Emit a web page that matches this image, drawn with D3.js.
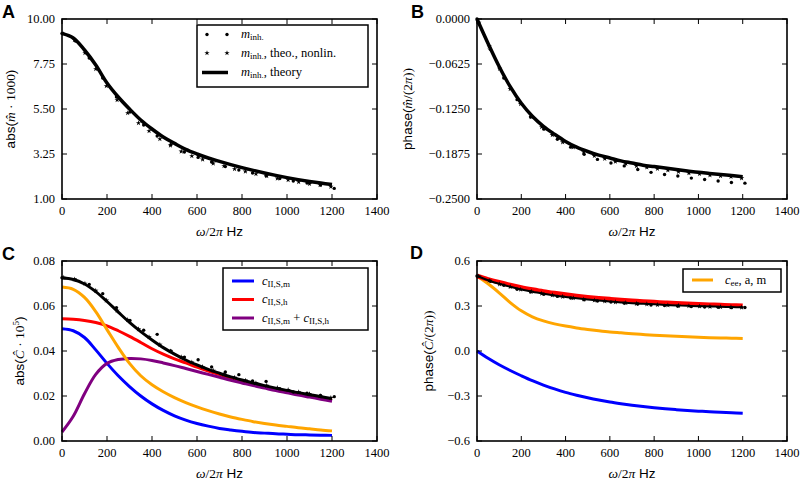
<!DOCTYPE html>
<html><head><meta charset="utf-8">
<script src="https://cdn.jsdelivr.net/npm/d3@7"></script>
<style>
body{margin:0;background:#fff;}
svg{display:block;}
</style></head><body>
<svg id="chart" width="800" height="484"></svg>
<script>
// ---------- data ----------
const freqTheory = [0,50,100,150,200,250,300,350,400,450,500,550,600,650,700,750,800,850,900,950,1000,1050,1100,1150,1200];
const dotFreq = [0,60,121,181,242,302,363,423,484,544,605,665,726,786,847,907,968,1028,1089,1149,1210];
const starFreq = [8,55,102,150,197,245,292,340,387,435,482,530,577,625,672,720,767,815,862,910,957,1005,1052,1100,1147,1195];

// Panel A: abs(m̂ · 1000)
const absMTheory = [9.28,9.05,8.45,7.7,6.8,6.1,5.5,4.95,4.5,4.1,3.78,3.48,3.25,3.05,2.88,2.72,2.57,2.43,2.3,2.18,2.07,1.97,1.88,1.8,1.72];
const absMDots = [9.28,8.9,8.05,7.05,6.1,5.35,4.7,4.15,3.72,3.35,3.08,2.85,2.62,2.45,2.3,2.16,2.02,1.9,1.8,1.7,1.53];
const absMStars = [9.25,8.95,8.3,7.5,6.65,5.95,5.3,4.8,4.4,4.0,3.68,3.38,3.15,2.98,2.78,2.65,2.5,2.38,2.25,2.15,2.03,1.95,1.85,1.76,1.7,1.62];

// Panel B: phase(m̂/(2π))
const phaseMTheory = [0,-0.034,-0.066,-0.094,-0.117,-0.135,-0.149,-0.160,-0.170,-0.178,-0.184,-0.189,-0.193,-0.197,-0.200,-0.203,-0.205,-0.207,-0.209,-0.211,-0.213,-0.2145,-0.216,-0.2175,-0.219];
const phaseMDots = [0,-0.042,-0.082,-0.112,-0.136,-0.153,-0.167,-0.178,-0.188,-0.195,-0.200,-0.204,-0.209,-0.213,-0.216,-0.218,-0.221,-0.223,-0.225,-0.227,-0.228];
const phaseMStars = [-0.005,-0.038,-0.069,-0.097,-0.118,-0.136,-0.150,-0.161,-0.171,-0.178,-0.185,-0.190,-0.194,-0.198,-0.201,-0.204,-0.206,-0.208,-0.210,-0.212,-0.214,-0.215,-0.217,-0.218,-0.219,-0.221];

// Panel C: abs(Ĉ · 10^5)
const absCTotal = [0.0724,0.0718,0.0698,0.0664,0.0620,0.0573,0.0527,0.0486,0.0449,0.0415,0.0386,0.0360,0.0338,0.0318,0.0301,0.0285,0.0271,0.0258,0.0246,0.0235,0.0225,0.0215,0.0206,0.0197,0.0189];
const absCm = [0.0499,0.0490,0.0460,0.0405,0.0345,0.0290,0.0242,0.0200,0.0165,0.0136,0.0112,0.0093,0.0078,0.0066,0.0056,0.0049,0.0043,0.0038,0.0035,0.0032,0.0030,0.0028,0.0027,0.0026,0.0025];
const absCh = [0.0543,0.0541,0.0536,0.0527,0.0512,0.0490,0.0465,0.0438,0.0410,0.0386,0.0365,0.0347,0.0328,0.0311,0.0295,0.0280,0.0266,0.0253,0.0241,0.0230,0.0219,0.0209,0.0200,0.0191,0.0183];
const absCsum = [0.0040,0.0110,0.0210,0.0296,0.0345,0.0362,0.0367,0.0365,0.0358,0.0347,0.0335,0.0322,0.0309,0.0296,0.0283,0.0270,0.0258,0.0246,0.0235,0.0224,0.0214,0.0204,0.0195,0.0186,0.0177];
const absCee = [0.0684,0.0674,0.0638,0.0575,0.0495,0.0416,0.0345,0.0290,0.0250,0.0219,0.0193,0.0171,0.0152,0.0135,0.0120,0.0107,0.0096,0.0086,0.0078,0.0071,0.0065,0.0059,0.0054,0.0049,0.0045];
const absCDots = [0.0726,0.0716,0.0696,0.0655,0.0593,0.0536,0.0492,0.0474,0.0400,0.0373,0.0361,0.0329,0.0307,0.0295,0.0267,0.0265,0.0233,0.0218,0.0213,0.0203,0.0197];
const absCStars = [0.0726,0.0718,0.0700,0.0668,0.0625,0.0580,0.0538,0.0497,0.0462,0.0428,0.0399,0.0373,0.0350,0.0330,0.0313,0.0297,0.0282,0.0269,0.0257,0.0246,0.0236,0.0227,0.0217,0.0209,0.0200,0.0192];

// Panel D: phase(Ĉ/(2π))
const phaseCTotal = [0.500,0.472,0.448,0.428,0.410,0.395,0.382,0.370,0.360,0.351,0.343,0.336,0.330,0.324,0.319,0.315,0.311,0.307,0.304,0.301,0.299,0.297,0.295,0.293,0.291];
const phaseCh = [0.500,0.478,0.458,0.440,0.424,0.410,0.397,0.386,0.376,0.367,0.359,0.352,0.346,0.340,0.335,0.330,0.326,0.322,0.318,0.315,0.312,0.309,0.306,0.304,0.302];
const phaseCm = [0,-0.049,-0.092,-0.130,-0.165,-0.198,-0.227,-0.253,-0.276,-0.295,-0.312,-0.327,-0.340,-0.351,-0.361,-0.370,-0.378,-0.385,-0.391,-0.396,-0.401,-0.405,-0.409,-0.412,-0.415];
const phaseCee = [0.500,0.448,0.388,0.323,0.268,0.228,0.201,0.181,0.166,0.154,0.144,0.135,0.127,0.121,0.115,0.110,0.105,0.101,0.098,0.095,0.092,0.089,0.087,0.085,0.083];
const phaseCDots = [0.5,0.465,0.438,0.412,0.394,0.378,0.364,0.353,0.342,0.333,0.326,0.319,0.313,0.307,0.303,0.299,0.296,0.293,0.291,0.289,0.290];
const phaseCStars = [0.498,0.470,0.446,0.428,0.410,0.396,0.383,0.372,0.362,0.353,0.345,0.338,0.332,0.326,0.321,0.316,0.312,0.308,0.305,0.302,0.300,0.298,0.296,0.294,0.293,0.291];

const xTicks = [0,200,400,600,800,1000,1200,1400];
const yTicksA = [1.00,3.25,5.50,7.75,10.00];
const yTicksB = [-0.25,-0.1875,-0.125,-0.0625,0];
const yTicksC = [0,0.02,0.04,0.06,0.08];
const yTicksD = [-0.6,-0.3,0,0.3,0.6];

// ---------- drawing ----------
const svg = d3.select("#chart");
const SERIF = "'Liberation Serif','DejaVu Serif',serif";
const SANS = "'Liberation Sans',Arial,sans-serif";
const COL = {blue:"#0000ff", red:"#ff0000", purple:"#800080", orange:"#ffa500", black:"#000"};

function makePanel(o){
  const x = d3.scaleLinear().domain([0,1400]).range([o.left,o.right]);
  const y = d3.scaleLinear().domain(o.ydom).range([o.bottom,o.top]);
  const g = svg.append("g");
  const content = g.append("g");
  const axes = g.append("g");
  xTicks.forEach(t=>{
    axes.append("line").attr("x1",x(t)).attr("x2",x(t)).attr("y1",o.bottom).attr("y2",o.bottom-5).attr("stroke","#000").attr("stroke-width",1);
    axes.append("line").attr("x1",x(t)).attr("x2",x(t)).attr("y1",o.top).attr("y2",o.top+5).attr("stroke","#000").attr("stroke-width",1);
    axes.append("text").attr("x",x(t)).attr("y",o.bottom+16).attr("text-anchor","middle")
      .attr("font-family",SERIF).attr("font-size",12.5).text(t);
  });
  o.yticks.forEach(t=>{
    axes.append("line").attr("y1",y(t)).attr("y2",y(t)).attr("x1",o.left).attr("x2",o.left+5).attr("stroke","#000").attr("stroke-width",1);
    axes.append("line").attr("y1",y(t)).attr("y2",y(t)).attr("x1",o.right).attr("x2",o.right-5).attr("stroke","#000").attr("stroke-width",1);
    axes.append("text").attr("x",o.left-7).attr("y",y(t)).attr("dy","0.35em").attr("text-anchor","end")
      .attr("font-family",SERIF).attr("font-size",12.5).text(d3.format(o.yfmt)(t));
  });
  axes.append("rect").attr("x",o.left).attr("y",o.top).attr("width",o.right-o.left).attr("height",o.bottom-o.top)
    .attr("fill","none").attr("stroke","#000").attr("stroke-width",1.6);
  const xt = axes.append("text").attr("x",(o.left+o.right)/2).attr("y",o.bottom+37).attr("text-anchor","middle").attr("font-size",13.5);
  xt.append("tspan").attr("font-family",SERIF).attr("font-style","italic").text("ω");
  xt.append("tspan").attr("font-family",SERIF).text("/2");
  xt.append("tspan").attr("font-family",SERIF).attr("font-style","italic").text("π");
  xt.append("tspan").attr("font-family",SANS).text(" Hz");
  const yt = axes.append("text").attr("transform",`translate(${o.ytx},${(o.top+o.bottom)/2}) rotate(-90)`)
    .attr("text-anchor","middle").attr("dy","0.35em").attr("font-size",13.5);
  o.ytitle(yt);
  axes.append("text").attr("x",o.lx).attr("y",o.ly).attr("font-family",SANS).attr("font-weight","bold").attr("font-size",18).text(o.letter);
  return {x,y,content,axes};
}

function theoryLine(p, vals, color, width){
  const line = d3.line().x((d,i)=>p.x(freqTheory[i])).y(d=>p.y(d)).curve(d3.curveCatmullRom.alpha(0.5));
  p.content.append("path").datum(vals).attr("d",line).attr("fill","none").attr("stroke",color).attr("stroke-width",width).attr("stroke-linecap","butt");
}
function dots(p, vals){
  p.content.selectAll(null).data(vals).join("circle").attr("cx",(d,i)=>p.x(dotFreq[i])).attr("cy",d=>p.y(d)).attr("r",1.7).attr("fill","#000");
}
const starPath = d3.symbol().type(d3.symbolStar).size(9)();
function stars(p, vals){
  p.content.selectAll(null).data(vals).join("path").attr("d",starPath)
    .attr("transform",(d,i)=>`translate(${p.x(starFreq[i])},${p.y(d)})`).attr("fill","#000");
}
function tsp(t, txt, fam, style){
  const s = t.append("tspan").attr("font-family",fam).text(txt);
  if(style) s.attr("font-style",style);
  return s;
}
function sub(t, txt, size){
  t.append("tspan").attr("font-family",SERIF).attr("font-size",size).attr("baseline-shift","-25%").text(txt);
}

// Panel A
const pA = makePanel({left:62,right:377,top:19,bottom:199,ydom:[1,10],yticks:yTicksA,yfmt:".2f",ytx:10,lx:2,ly:18,letter:"A",
  ytitle:t=>{tsp(t,"abs(",SANS);tsp(t,"m̂",SERIF,"italic");tsp(t," · 1000",SERIF);tsp(t,")",SANS);}});
theoryLine(pA, absMTheory, "#000", 3.5);
stars(pA, absMStars);
dots(pA, absMDots);

// Panel B
const pB = makePanel({left:477,right:787,top:19,bottom:199,ydom:[-0.25,0],yticks:yTicksB,yfmt:".4f",ytx:407,lx:411,ly:18,letter:"B",
  ytitle:t=>{tsp(t,"phase(",SANS);tsp(t,"m̂",SERIF,"italic");tsp(t,"/(2",SERIF);tsp(t,"π",SERIF,"italic");tsp(t,"))",SERIF);}});
theoryLine(pB, phaseMTheory, "#000", 3.5);
stars(pB, phaseMStars);
dots(pB, phaseMDots);

// Panel C
const pC = makePanel({left:62,right:377,top:261,bottom:441,ydom:[0,0.08],yticks:yTicksC,yfmt:".2f",ytx:19,lx:2,ly:260,letter:"C",
  ytitle:t=>{tsp(t,"abs(",SANS);tsp(t,"Ĉ",SERIF,"italic");tsp(t," · 10",SERIF);
    t.append("tspan").attr("font-family",SERIF).attr("font-size",9).attr("baseline-shift","super").text("5");tsp(t,")",SANS);}});
theoryLine(pC, absCm, COL.blue, 3);
theoryLine(pC, absCh, COL.red, 3);
theoryLine(pC, absCsum, COL.purple, 3);
theoryLine(pC, absCee, COL.orange, 3);
theoryLine(pC, absCTotal, "#000", 3);
stars(pC, absCStars);
dots(pC, absCDots);

// Panel D
const pD = makePanel({left:477,right:787,top:261,bottom:441,ydom:[-0.6,0.6],yticks:yTicksD,yfmt:".1f",ytx:428,lx:410,ly:259,letter:"D",
  ytitle:t=>{tsp(t,"phase(",SANS);tsp(t,"Ĉ",SERIF,"italic");tsp(t,"/(2",SERIF);tsp(t,"π",SERIF,"italic");tsp(t,"))",SERIF);}});
theoryLine(pD, phaseCm, COL.blue, 3);
theoryLine(pD, phaseCee, COL.orange, 3);
theoryLine(pD, phaseCh, COL.red, 4.5);
theoryLine(pD, phaseCTotal, "#000", 2);
stars(pD, phaseCStars);
dots(pD, phaseCDots);

// ---------- legends ----------
function legendBox(x0,y0,x1,y1){
  svg.append("rect").attr("x",x0).attr("y",y0).attr("width",x1-x0).attr("height",y1-y0)
    .attr("fill","#fff").attr("stroke","#000").attr("stroke-width",1.5);
}
legendBox(197,25,368,87);
const legA = [
  {type:"dot", label:t=>{tsp(t,"m",SERIF,"italic");sub(t,"inh.",9);}},
  {type:"star", label:t=>{tsp(t,"m",SERIF,"italic");sub(t,"inh.",9);tsp(t,", theo., nonlin.",SERIF);}},
  {type:"line", label:t=>{tsp(t,"m",SERIF,"italic");sub(t,"inh.",9);tsp(t,", theory",SERIF);}}
];
const legAy = [34.5,53,72.5];
legA.forEach((e,i)=>{
  const yy = legAy[i];
  if(e.type==="dot"){[207,227].forEach(xx=>svg.append("circle").attr("cx",xx).attr("cy",yy).attr("r",1.7).attr("fill","#000"));}
  if(e.type==="star"){[207,227].forEach(xx=>svg.append("path").attr("d",starPath).attr("transform",`translate(${xx},${yy})`).attr("fill","#000"));}
  if(e.type==="line"){svg.append("line").attr("x1",202).attr("x2",228).attr("y1",yy).attr("y2",yy).attr("stroke","#000").attr("stroke-width",3.5);}
  const t = svg.append("text").attr("x",241).attr("y",yy).attr("dy","0.3em").attr("font-size",12.5);
  e.label(t);
});
legendBox(223,268,368,330);
const legC = [
  {c:COL.blue, label:t=>{tsp(t,"c",SERIF,"italic");sub(t,"II,S,m",9);}},
  {c:COL.red, label:t=>{tsp(t,"c",SERIF,"italic");sub(t,"II,S,h",9);}},
  {c:COL.purple, label:t=>{tsp(t,"c",SERIF,"italic");sub(t,"II,S,m",9);
     t.append("tspan").attr("font-family",SERIF).attr("baseline-shift","0%").text(" + ");tsp(t,"c",SERIF,"italic");sub(t,"II,S,h",9);}}
];
const legCy = [281,299.5,318];
legC.forEach((e,i)=>{
  const yy = legCy[i];
  svg.append("line").attr("x1",232).attr("x2",254).attr("y1",yy).attr("y2",yy).attr("stroke",e.c).attr("stroke-width",3);
  const t = svg.append("text").attr("x",262).attr("y",yy).attr("dy","0.3em").attr("font-size",12.5);
  e.label(t);
});
legendBox(683,269,781,292);
svg.append("line").attr("x1",692).attr("x2",713).attr("y1",280).attr("y2",280).attr("stroke",COL.orange).attr("stroke-width",3);
{
  const t = svg.append("text").attr("x",725).attr("y",280).attr("dy","0.3em").attr("font-size",12.5);
  tsp(t,"c",SERIF,"italic");sub(t,"ee",9);t.append("tspan").attr("font-family",SERIF).text(", a, m");
}
</script>
</body></html>
